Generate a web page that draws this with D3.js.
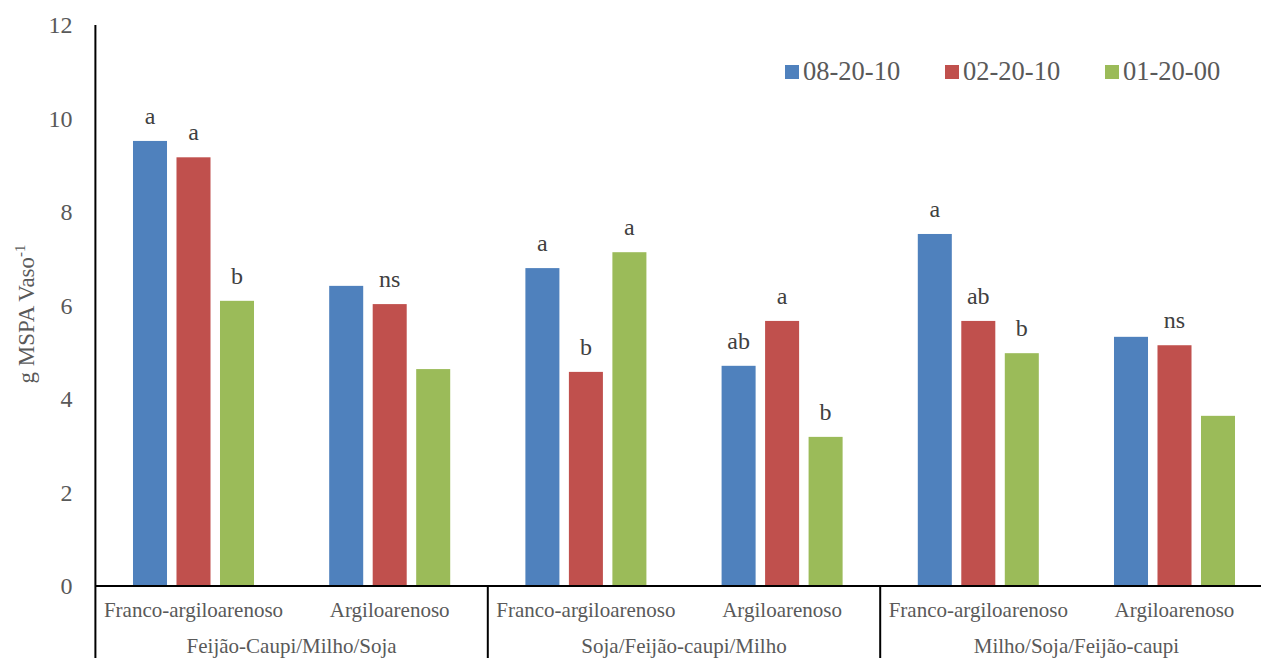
<!DOCTYPE html>
<html>
<head>
<meta charset="utf-8">
<script src="https://cdn.jsdelivr.net/npm/d3@7"></script>
<style>
html,body{margin:0;padding:0;background:#fff;overflow:hidden;}
svg{display:block;}
svg text, svg tspan{font-family:"Liberation Serif",serif !important;}
</style>
</head>
<body>
<svg id="chart" width="1261" height="658"></svg>
<script>
// ---- data ----
const groups = ["Feijão-Caupi/Milho/Soja", "Soja/Feijão-caupi/Milho", "Milho/Soja/Feijão-caupi"];
const soils = ["Franco-argiloarenoso", "Argiloarenoso"];
const series = ["08-20-10", "02-20-10", "01-20-00"];
const v0820 = [9.52, 6.42, 6.80, 4.71, 7.53, 5.33];
const v0220 = [9.17, 6.03, 4.58, 5.67, 5.67, 5.15];
const v0120 = [6.10, 4.64, 7.14, 3.19, 4.98, 3.64];
const lab0820 = ["a", "", "a", "ab", "a", ""];
const lab0220 = ["a", "ns", "b", "a", "ab", "ns"];
const lab0120 = ["b", "", "a", "b", "b", ""];
const yTicks = [0, 2, 4, 6, 8, 10, 12];
const colors = ["#4f81bd", "#c0504d", "#9bbb59"];

const values = [v0820, v0220, v0120];
const labels = [lab0820, lab0220, lab0120];
const categories = [];
groups.forEach(g => soils.forEach(s => categories.push(g + "|" + s)));

const FONT = "'Liberation Serif', serif";
const svg = d3.select("#chart").style("font-family", FONT);
const X0 = 95.4, BAND = 196.2;
const x0 = d3.scaleBand().domain(categories).range([X0, X0 + BAND * categories.length]).padding(0);
const x1 = d3.scaleBand().domain(series).range([0, 130.5]).paddingInner(0.218).paddingOuter(0.109);
const groupOffset = (x0.bandwidth() - 130.5) / 2;
const y = d3.scaleLinear().domain([0, 12]).range([586, 25]);

// bars
series.forEach((s, si) => {
  svg.append("g").selectAll("rect")
    .data(categories.map((c, i) => ({c, v: values[si][i], l: labels[si][i]})))
    .join("rect")
    .attr("x", d => x0(d.c) + groupOffset + x1(s))
    .attr("y", d => y(d.v))
    .attr("width", x1.bandwidth())
    .attr("height", d => y(0) - y(d.v))
    .attr("fill", colors[si]);
  svg.append("g").selectAll("text")
    .data(categories.map((c, i) => ({c, v: values[si][i], l: labels[si][i]})).filter(d => d.l))
    .join("text")
    .attr("x", d => x0(d.c) + groupOffset + x1(s) + x1.bandwidth() / 2)
    .attr("y", d => y(d.v) - 17)
    .attr("text-anchor", "middle")
    .style("font-family", FONT)
    .style("font-size", "24px")
    .attr("fill", "#404040")
    .text(d => d.l);
});

// y axis
const yAxis = d3.axisLeft(y).tickValues(yTicks).tickSize(0).tickPadding(23).tickFormat(d3.format("d"));
const ya = svg.append("g").attr("transform", "translate(" + X0 + ",0)").call(yAxis)
  .attr("font-family", null).attr("font-size", null);
ya.select(".domain").remove();
ya.selectAll("text").style("font-size", "24px").style("font-family", FONT).attr("fill", "#595959");
svg.append("line").attr("x1", X0).attr("x2", X0).attr("y1", y(12)).attr("y2", 658)
  .attr("stroke", "#000").attr("stroke-width", 2);

// x axis line
svg.append("line").attr("x1", X0).attr("x2", 1261).attr("y1", y(0)).attr("y2", y(0))
  .attr("stroke", "#000").attr("stroke-width", 2);

// group separators
groups.forEach((g, gi) => {
  const xs = X0 + BAND * 2 * (gi + 1);
  svg.append("line").attr("x1", xs).attr("x2", xs).attr("y1", y(0)).attr("y2", 658)
    .attr("stroke", "#000").attr("stroke-width", 2);
});

// category labels
svg.append("g").selectAll("text").data(categories).join("text")
  .attr("x", d => x0(d) + x0.bandwidth() / 2)
  .attr("y", 617)
  .attr("text-anchor", "middle")
  .style("font-family", FONT)
  .style("font-size", "21px")
  .attr("fill", "#595959")
  .text(d => d.split("|")[1]);

// group labels
svg.append("g").selectAll("text").data(groups).join("text")
  .attr("x", (d, i) => X0 + BAND * (2 * i + 1))
  .attr("y", 653)
  .attr("text-anchor", "middle")
  .style("font-family", FONT)
  .style("font-size", "21px")
  .attr("fill", "#595959")
  .text(d => d);

// y title
const yt = svg.append("text")
  .attr("transform", "translate(34,314) rotate(-90)")
  .attr("text-anchor", "middle")
  .style("font-family", FONT)
  .style("font-size", "23px")
  .attr("fill", "#595959");
yt.append("tspan").text("g MSPA Vaso");
yt.append("tspan").style("font-size", "15px").attr("dy", -9).text("-1");

// legend
const legX = [785, 945, 1105];
const leg = svg.append("g").selectAll("g").data(series).join("g")
  .attr("transform", (d, i) => "translate(" + legX[i] + ",65)");
leg.append("rect").attr("width", 14).attr("height", 14).attr("fill", (d, i) => colors[i]);
leg.append("text").attr("x", 18).attr("y", 15)
  .style("font-family", FONT).style("font-size", "26.5px")
  .attr("fill", "#595959").text(d => d);
</script>
</body>
</html>
